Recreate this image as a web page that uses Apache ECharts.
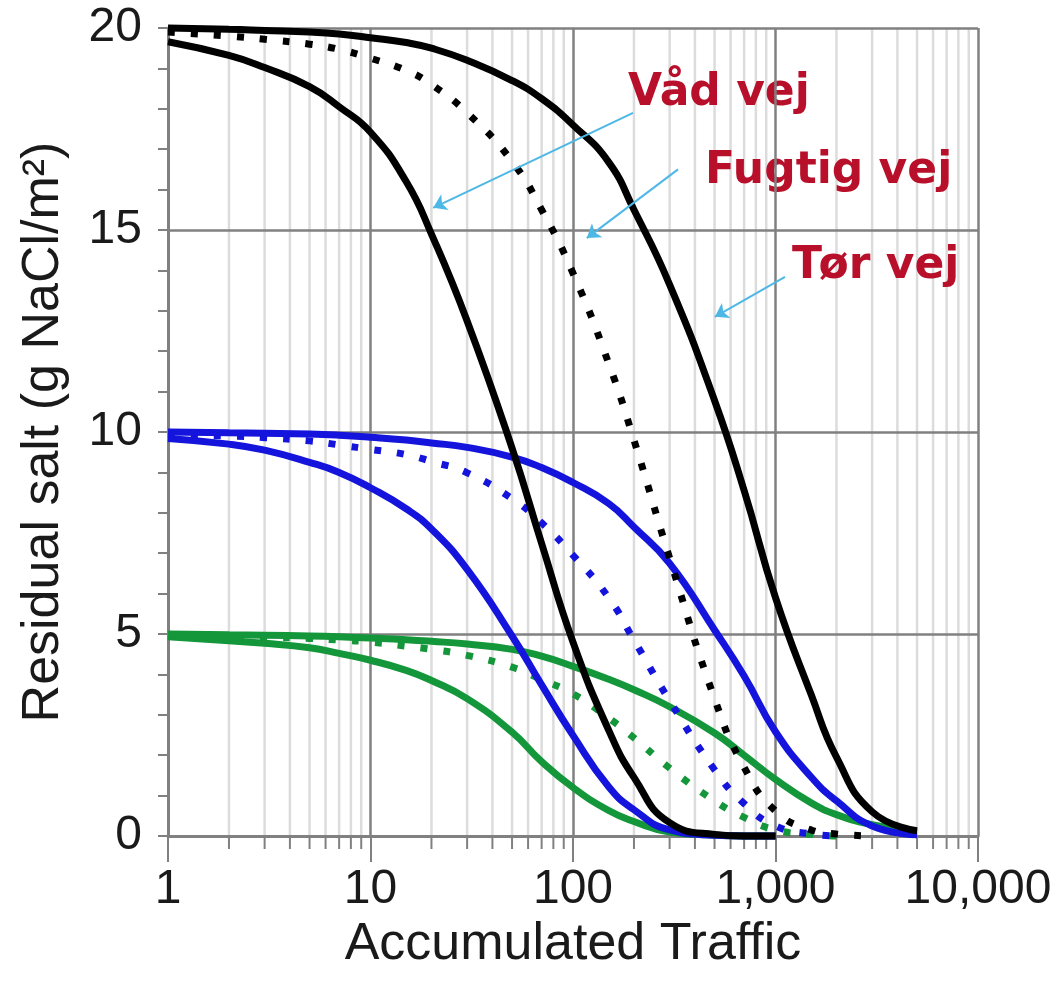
<!DOCTYPE html>
<html lang="da">
<head>
<meta charset="UTF-8">
<title>Residual salt</title>
<style>
  html, body { margin: 0; padding: 0; background: #fff; }
  #chart { width: 1064px; height: 987px; }
</style>
</head>
<body>
<div id="chart"></div>
<script src="https://cdn.jsdelivr.net/npm/echarts@6/dist/echarts.min.js"></script>
<script>
// accumulated traffic (x)
var traffic = [1, 2, 3, 5, 7, 10, 15, 20, 30, 50, 70, 100, 150, 200, 300, 500, 700, 1000, 1500, 2000, 3000, 5000];

// black: start 20 g/m2
var black_vaad   = [19.66, 19.32, 19.02, 18.55, 18.05, 17.42, 16.2, 14.9, 12.75, 9.6, 7.24, 4.8, 2.62, 1.45, 0.33, 0.04, 0, 0, null, null, null, null];
var black_fugtig = [19.9, 19.8, 19.72, 19.6, 19.47, 19.25, 18.95, 18.6, 17.9, 16.7, 15.5, 13.93, 11.7, 9.8, 6.88, 3.4, 1.7, 0.62, 0.15, 0.05, 0, null];
var black_toer   = [20, 19.97, 19.94, 19.9, 19.85, 19.76, 19.64, 19.5, 19.2, 18.7, 18.25, 17.6, 16.68, 15.5, 13.65, 10.78, 8.55, 5.9, 3.5, 1.95, 0.6, 0.13];

// blue: start 10 g/m2
var blue_vaad    = [9.84, 9.7, 9.55, 9.25, 9.0, 8.62, 8.1, 7.6, 6.6, 4.95, 3.74, 2.49, 1.22, 0.65, 0.15, 0.02, 0, 0, null, null, null, null];
var blue_fugtig  = [9.95, 9.9, 9.86, 9.78, 9.68, 9.57, 9.44, 9.27, 8.99, 8.35, 7.75, 6.95, 5.9, 4.85, 3.35, 1.64, 0.8, 0.25, 0.05, 0, null, null];
var blue_toer    = [10, 9.98, 9.97, 9.95, 9.92, 9.87, 9.8, 9.73, 9.62, 9.38, 9.12, 8.75, 8.23, 7.65, 6.75, 5.1, 3.96, 2.58, 1.46, 0.87, 0.25, 0.03];

// green: start 5 g/m2
var green_vaad   = [4.93, 4.83, 4.77, 4.66, 4.52, 4.35, 4.1, 3.85, 3.4, 2.57, 1.84, 1.2, 0.63, 0.36, 0.1, 0.02, 0, 0, null, null, null, null];
var green_fugtig = [4.96, 4.94, 4.92, 4.89, 4.85, 4.8, 4.7, 4.62, 4.47, 4.18, 3.87, 3.52, 2.92, 2.43, 1.68, 0.87, 0.46, 0.15, 0.04, 0, null, null];
var green_toer   = [5.0, 4.98, 4.97, 4.95, 4.93, 4.9, 4.86, 4.82, 4.75, 4.62, 4.45, 4.2, 3.88, 3.62, 3.2, 2.55, 2.0, 1.4, 0.82, 0.53, 0.28, 0.1];

var xTickLabels = ['1', '10', '100', '1,000', '10,000'];
var yTickLabels = ['0', '5', '10', '15', '20'];
var minorTicks = [2, 3, 4, 5, 6, 7, 8, 9, 20, 30, 40, 50, 60, 70, 80, 90,
                  200, 300, 400, 500, 600, 700, 800, 900, 2000, 3000, 4000, 5000, 6000, 7000, 8000, 9000];

// annotation texts and arrows (arrow start -> end, data coords)
var notes = ['Våd vej', 'Fugtig vej', 'Tør vej'];
var arrowFrom = [[198, 17.9], [330, 16.5], [1114, 13.84]];
var arrowTo   = [[20.4, 15.55], [117, 14.8], [502, 12.85]];

var sans = "'Liberation Sans', Arial, sans-serif";

function pairs(ys) {
    var out = [];
    for (var i = 0; i < traffic.length; i++) {
        out.push([traffic[i], ys[i]]);
    }
    return out;
}

function solid(name, ys, color) {
    return {
        name: name, type: 'line', data: pairs(ys), smooth: 0.5,
        symbol: 'none', clip: false, z: 3,
        lineStyle: { color: color, width: 7 }
    };
}

function dotted(name, ys, color) {
    return {
        name: name, type: 'line', data: pairs(ys), smooth: 0.5,
        symbol: 'none', clip: false, z: 3,
        lineStyle: { color: color, width: 7, type: [7, 16], cap: 'butt' }
    };
}

var chart = echarts.init(document.getElementById('chart'));

var arrowData = [];
for (var i = 0; i < arrowFrom.length; i++) {
    arrowData.push([{ coord: arrowFrom[i] }, { coord: arrowTo[i] }]);
}

var series = [
    {
        // minor grid lines + minor ticks of the log axis
        type: 'custom', silent: true, clip: false, z: -1,
        data: minorTicks.map(function (v) { return [v, 0]; }),
        encode: { x: 0, y: 1 },
        renderItem: function (params, api) {
            var bot = api.coord([api.value(0), 0]);
            var top = api.coord([api.value(0), 20]);
            return {
                type: 'group',
                children: [
                    { type: 'line', shape: { x1: bot[0], y1: top[1], x2: bot[0], y2: bot[1] },
                      style: { stroke: '#dcdcdc', lineWidth: 2.5 } },
                    { type: 'line', shape: { x1: bot[0], y1: bot[1], x2: bot[0], y2: bot[1] + 13 },
                      style: { stroke: '#808080', lineWidth: 2 } }
                ]
            };
        }
    },
    solid('green_vaad', green_vaad, '#14963a'),
    dotted('green_fugtig', green_fugtig, '#14963a'),
    solid('green_toer', green_toer, '#14963a'),
    solid('blue_vaad', blue_vaad, '#1414dc'),
    dotted('blue_fugtig', blue_fugtig, '#1414dc'),
    solid('blue_toer', blue_toer, '#1414dc'),
    solid('black_vaad', black_vaad, '#000'),
    dotted('black_fugtig', black_fugtig, '#000'),
    solid('black_toer', black_toer, '#000')
];

// arrows
series[series.length - 1].markLine = {
    silent: true,
    symbol: ['none', 'arrow'],
    symbolSize: 13,
    label: { show: false },
    lineStyle: { color: '#4db8e6', width: 2, type: 'solid' },
    data: arrowData
};

var redFont = 'bold 44px "DejaVu Sans"';

var option = {
    animation: false,
    backgroundColor: '#fff',
    grid: { left: 168, right: 86, top: 28, bottom: 151, containLabel: false, outerBoundsMode: 'none' },
    xAxis: {
        type: 'log', logBase: 10, min: 1, max: 10000,
        name: 'Accumulated Traffic', nameLocation: 'middle', nameGap: 81,
        nameTextStyle: { fontFamily: sans, fontSize: 52, color: '#1a1a1a' },
        axisLine: { lineStyle: { color: '#808080', width: 3 } },
        axisTick: { length: 26, lineStyle: { color: '#808080', width: 2 } },
        axisLabel: {
            fontFamily: sans, fontSize: 48, color: '#1a1a1a', margin: 30,
            formatter: function (v) {
                return xTickLabels[Math.round(Math.log(v) / Math.LN10)];
            }
        },
        splitLine: { show: true, lineStyle: { color: '#808080', width: 2.5 } },
        minorTick: { show: false },
        minorSplitLine: { show: false }
    },
    yAxis: {
        type: 'value', min: 0, max: 20, interval: 5,
        name: 'Residual salt (g NaCl/m²)', nameLocation: 'middle', nameGap: 98,
        nameTextStyle: { fontFamily: sans, fontSize: 52, color: '#1a1a1a' },
        axisLine: { show: true, lineStyle: { color: '#808080', width: 3 } },
        axisTick: { show: true, length: 10, lineStyle: { color: '#808080', width: 2 } },
        minorTick: { show: true, splitNumber: 5, length: 10, lineStyle: { color: '#808080', width: 2 } },
        axisLabel: {
            fontFamily: sans, fontSize: 48, color: '#1a1a1a', margin: 26,
            formatter: function (v) { return yTickLabels[Math.round(v / 5)]; }
        },
        splitLine: { show: true, lineStyle: { color: '#808080', width: 2.5 } }
    },
    graphic: [
        { type: 'text', left: 628, top: 72, style: { text: notes[0], fill: '#b8102a', font: redFont } },
        { type: 'text', left: 705, top: 150, style: { text: notes[1], fill: '#b8102a', font: redFont } },
        { type: 'text', left: 792, top: 245, style: { text: notes[2], fill: '#b8102a', font: redFont } }
    ],
    series: series
};

chart.setOption(option);
</script>
</body>
</html>
